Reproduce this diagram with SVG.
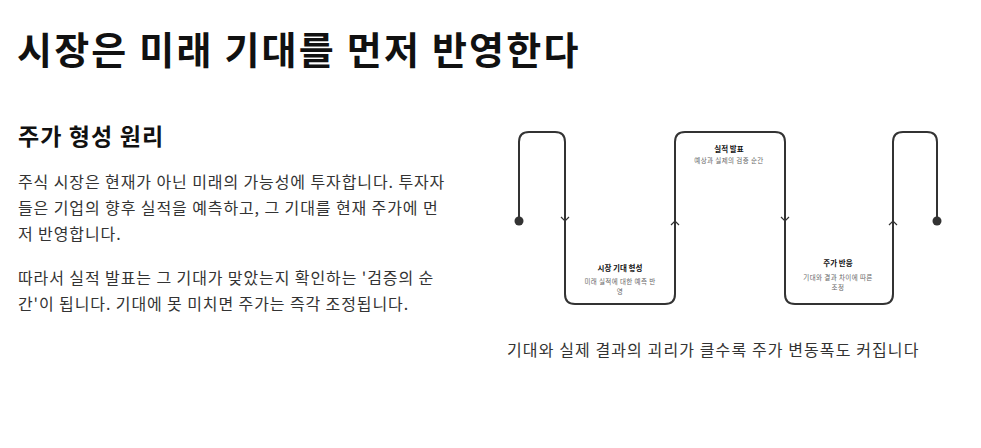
<svg xmlns="http://www.w3.org/2000/svg" width="981" height="448" viewBox="0 0 981 448">
<style>
text{font-family:"Noto Sans CJK KR","Noto Sans",sans-serif}
.title{font-size:38px;font-weight:700;fill:#111;letter-spacing:2.2px}
.h2{font-size:23px;font-weight:700;fill:#111;letter-spacing:1.1px}
.body{font-size:16px;fill:#333;letter-spacing:0.9px}
.cap{font-size:16px;fill:#333;letter-spacing:1.1px}
.nt{font-size:7.5px;font-weight:700;fill:#111;text-anchor:middle}
.ns{font-size:6.5px;fill:#666;text-anchor:middle;letter-spacing:0.4px}
.wave{fill:none;stroke:#333;stroke-width:2;stroke-linejoin:round}
.chev{fill:none;stroke:#333;stroke-width:1.2}
.dot{fill:#333}
</style>
<rect width="981" height="448" fill="#fff"/>
<g id="header">
<text class="title" x="17" y="64">시장은 미래 기대를 먼저 반영한다</text>
</g>
<g id="explanation">
<text class="h2" x="18" y="145">주가 형성 원리</text>
<text class="body" x="18" y="188">주식 시장은 현재가 아닌 미래의 가능성에 투자합니다. 투자자</text>
<text class="body" x="18" y="214">들은 기업의 향후 실적을 예측하고, 그 기대를 현재 주가에 먼</text>
<text class="body" x="18" y="240">저 반영합니다.</text>
<text class="body" x="18" y="284">따라서 실적 발표는 그 기대가 맞았는지 확인하는 '검증의 순</text>
<text class="body" x="18" y="310">간'이 됩니다. 기대에 못 미치면 주가는 즉각 조정됩니다.</text>
</g>
<g id="connectors">
<path class="wave" d="M519,221 V142 Q519,132 529,132 H555 Q565,132 565,142 V294 Q565,304 575,304 H665 Q675,304 675,294 V142 Q675,132 685,132 H775 Q785,132 785,142 V294 Q785,304 795,304 H883 Q893,304 893,294 V142 Q893,132 903,132 H927 Q937,132 937,142 V221"/>
<path class="chev" d="M561,217 L565,221 L569,217"/>
<path class="chev" d="M671,225 L675,221 L679,225"/>
<path class="chev" d="M781,217 L785,221 L789,217"/>
<path class="chev" d="M889,225 L893,221 L897,225"/>
<circle class="dot" cx="519" cy="221" r="4.5"/>
<circle class="dot" cx="937" cy="221" r="4.5"/>
</g>
<g id="node-expectation">
<text class="nt" x="620" y="271">시장 기대 형성</text>
<text class="ns" x="620" y="284">미래 실적에 대한 예측 반</text>
<text class="ns" x="620" y="294">영</text>
</g>
<g id="node-earnings">
<text class="nt" x="729" y="152">실적 발표</text>
<text class="ns" x="729" y="163">예상과 실제의 검증 순간</text>
</g>
<g id="node-reaction">
<text class="nt" x="838" y="266">주가 반응</text>
<text class="ns" x="838" y="280">기대와 결과 차이에 따른</text>
<text class="ns" x="838" y="290">조정</text>
</g>
<g id="caption">
<text class="cap" x="507" y="356">기대와 실제 결과의 괴리가 클수록 주가 변동폭도 커집니다</text>
</g>
</svg>
